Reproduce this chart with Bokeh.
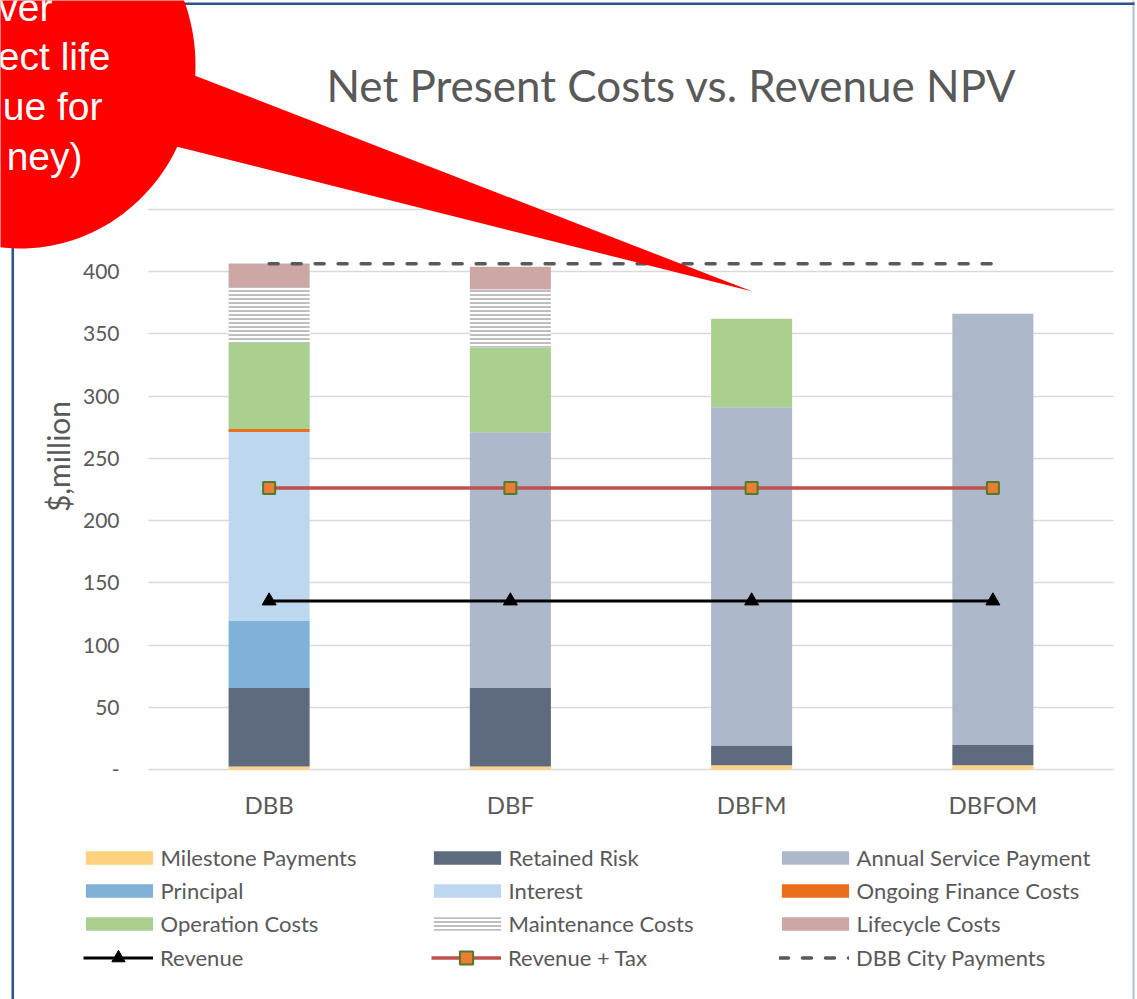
import numpy as np
from bokeh.plotting import figure
from bokeh.models import (FixedTicker, Legend, LegendItem, Label, PolyAnnotation,
                          Range1d, ColumnDataSource)
from bokeh.embed import file_html
from bokeh.resources import INLINE

# ---------------- data ----------------
categories = ["DBB", "DBF", "DBFM", "DBFOM"]
milestone_payments = [2.5, 2.5, 3.5, 3.5]
retained_risk = [63.0, 63.0, 15.7, 16.5]
annual_service_payment = [0.0, 205.5, 271.8, 346.3]
principal = [54.2, 0.0, 0.0, 0.0]
interest = [151.6, 0.0, 0.0, 0.0]
ongoing_finance_costs = [2.4, 0.0, 0.0, 0.0]
operation_costs = [69.1, 68.0, 71.3, 0.0]
maintenance_costs = [44.9, 46.8, 0.0, 0.0]
lifecycle_costs = [19.0, 18.2, 0.0, 0.0]
revenue = [135.5, 135.5, 135.5, 135.5]
revenue_plus_tax = [226.3, 226.3, 226.3, 226.3]
dbb_city_payments = [406.4, 406.4, 406.4, 406.4]

y_ticks = [0, 50, 100, 150, 200, 250, 300, 350, 400, 450]
y_tick_labels = ["-", "50", "100", "150", "200", "250", "300", "350", "400", "450"]

series_names = ["Milestone Payments", "Retained Risk", "Annual Service Payment",
                "Principal", "Interest", "Ongoing Finance Costs",
                "Operation Costs", "Maintenance Costs", "Lifecycle Costs"]
series_colors = ["#FFD27F", "#5E6A7D", "#ADB8CA", "#80B1D6", "#BDD7EE",
                 "#EB6E1C", "#A9D08E", "#FFFFFF", "#CDA7A6"]
line_names = ["Revenue", "Revenue + Tax", "DBB City Payments"]

title_text = "Net Present Costs vs. Revenue NPV"
y_axis_title = "$,million"
callout_lines = ["ver", "ect life", "ue for", "ney)"]

# ---------------- layout ----------------
W, H = 1137, 999
PL, PR, PT, PB = 148, 1113, 209, 769      # plot-area pixel box
YMAX = 450
NCAT = len(categories)
SX = (PR - PL) / NCAT
SY = (PB - PT) / YMAX
TXT = "#595959"
FONT = "Lato"

def dx(px):
    return (px - PL) / SX

def dy(py):
    return (PB - py) / SY

xpos = [i + 0.5 for i in range(NCAT)]

p = figure(x_range=Range1d(dx(0), dx(W)), y_range=Range1d(dy(H), dy(0)),
           width=W, height=H, output_backend="svg", toolbar_location=None,
           min_border=0)
p.outline_line_color = None
p.background_fill_color = "white"
p.border_fill_color = "white"

src = ColumnDataSource(dict(x=xpos,
                            **{n: v for n, v in zip(series_names,
                               [milestone_payments, retained_risk, annual_service_payment,
                                principal, interest, ongoing_finance_costs,
                                operation_costs, maintenance_costs, lifecycle_costs])}))
bars = p.vbar_stack(series_names, x="x", width=0.336, source=src,
                    fill_color=series_colors, line_color=None)
mg = bars[7].glyph
mg.hatch_pattern = "horizontal_line"
mg.hatch_color = "#BFBFBF"
mg.hatch_scale = 4
mg.hatch_weight = 2

r_rev_l = p.line(xpos, revenue, line_color="black", line_width=3)
r_rev_m = p.scatter(xpos, revenue, marker="triangle", size=14, color="black")
r_tax_l = p.line(xpos, revenue_plus_tax, line_color="#C0504D", line_width=3.5)
r_tax_m = p.scatter(xpos, revenue_plus_tax, marker="square", size=12,
                    fill_color="#ED7D31", line_color="#4E7B2F", line_width=2)
r_city = p.line(xpos, dbb_city_payments, line_color="#595959", line_width=3.5,
                line_dash="9 14", line_cap="round")

# axes (fixed inside the full-canvas frame)
xa, ya = p.xaxis[0], p.yaxis[0]
xa.fixed_location = 0
ya.fixed_location = 0
xa.bounds = (0, NCAT)
ya.bounds = (0, 503)
xa.ticker = FixedTicker(ticks=xpos)
xa.major_label_overrides = {x: c for x, c in zip(xpos, categories)}
ya.ticker = FixedTicker(ticks=y_ticks)
ya.major_label_overrides = {t: s for t, s in zip(y_ticks, y_tick_labels)}
for ax in (xa, ya):
    ax.axis_line_color = None
    ax.major_tick_line_color = None
    ax.minor_tick_line_color = None
    ax.major_label_text_color = TXT
    ax.major_label_text_font = FONT
ya.major_label_text_font_size = "21px"
ya.major_label_standoff = 23
xa.major_label_text_font_size = "24px"
xa.major_label_standoff = 14
ya.axis_label = y_axis_title
ya.axis_label_text_font = FONT
ya.axis_label_text_font_size = "30px"
ya.axis_label_text_font_style = "normal"
ya.axis_label_text_color = TXT
ya.axis_label_standoff = 4

p.xgrid.visible = False
p.ygrid.grid_line_color = "#D9D9D9"
p.ygrid.grid_line_width = 1.5
p.ygrid.cross_bounds = (0, NCAT)

# legends: three columns; bar rows and line row kept separate so markers are full size
bar_items = [LegendItem(label=n, renderers=[r]) for n, r in zip(series_names, bars)]
line_items = [LegendItem(label=line_names[0], renderers=[r_rev_l, r_rev_m]),
              LegendItem(label=line_names[1], renderers=[r_tax_l, r_tax_m]),
              LegendItem(label=line_names[2], renderers=[r_city])]
col_x = [85, 433, 781]
common = dict(orientation="vertical", padding=0, margin=0, spacing=6,
              label_height=25,
              label_text_font=FONT, label_text_font_size="22px", label_text_color=TXT,
              background_fill_alpha=0, border_line_color=None)
for k, cx in enumerate(col_x):
    p.add_layout(Legend(items=bar_items[k::3], location=(cx - 8.4, H - 937),
                        glyph_width=84, glyph_height=17, label_standoff=-1, **common))
    p.add_layout(Legend(items=[line_items[k]], location=(cx - 2, H - 973.5),
                        glyph_width=70, glyph_height=33, label_standoff=7, **common))

# chart-area border (left / right / top edges)
p.add_layout(PolyAnnotation(xs=[dx(11), dx(13.5), dx(13.5), dx(11)],
                            ys=[dy(0), dy(0), dy(H), dy(H)],
                            fill_color="#2F528F", fill_alpha=1, line_color=None))
p.add_layout(PolyAnnotation(xs=[dx(1132), dx(1134), dx(1134), dx(1132)],
                            ys=[dy(0), dy(0), dy(H), dy(H)],
                            fill_color="#B4C0D6", fill_alpha=1, line_color=None))
p.add_layout(PolyAnnotation(xs=[dx(11), dx(1134), dx(1134), dx(11)],
                            ys=[dy(2), dy(2), dy(4.5), dy(4.5)],
                            fill_color="#2F528F", fill_alpha=1, line_color=None))

# title
p.add_layout(Label(x=dx(671), y=dy(84), text=title_text, text_align="center",
                   text_baseline="alphabetic", text_font=FONT, text_font_size="44px",
                   text_color=TXT))

# red callout
ang = np.linspace(0, 2 * np.pi, 160)
ex = 20 + 175 * np.cos(ang)
ey = 65 + 183 * np.sin(ang)
p.add_layout(PolyAnnotation(xs=[dx(v) for v in ex], ys=[dy(v) for v in ey],
                            fill_color="#FF0000", fill_alpha=1, line_color=None))
p.add_layout(PolyAnnotation(xs=[dx(150), dx(752), dx(120)],
                            ys=[dy(58), dy(291), dy(132)],
                            fill_color="#FF0000", fill_alpha=1, line_color=None))
for txt, (rx, by) in zip(callout_lines, [(52, 7), (110, 56), (102, 106), (82, 156)]):
    p.add_layout(Label(x=dx(rx), y=dy(by), text=txt, text_align="right",
                       text_baseline="alphabetic", text_font="Liberation Sans",
                       text_font_size="39px", text_color="white"))

open("out.html", "w").write(file_html(p, INLINE))
